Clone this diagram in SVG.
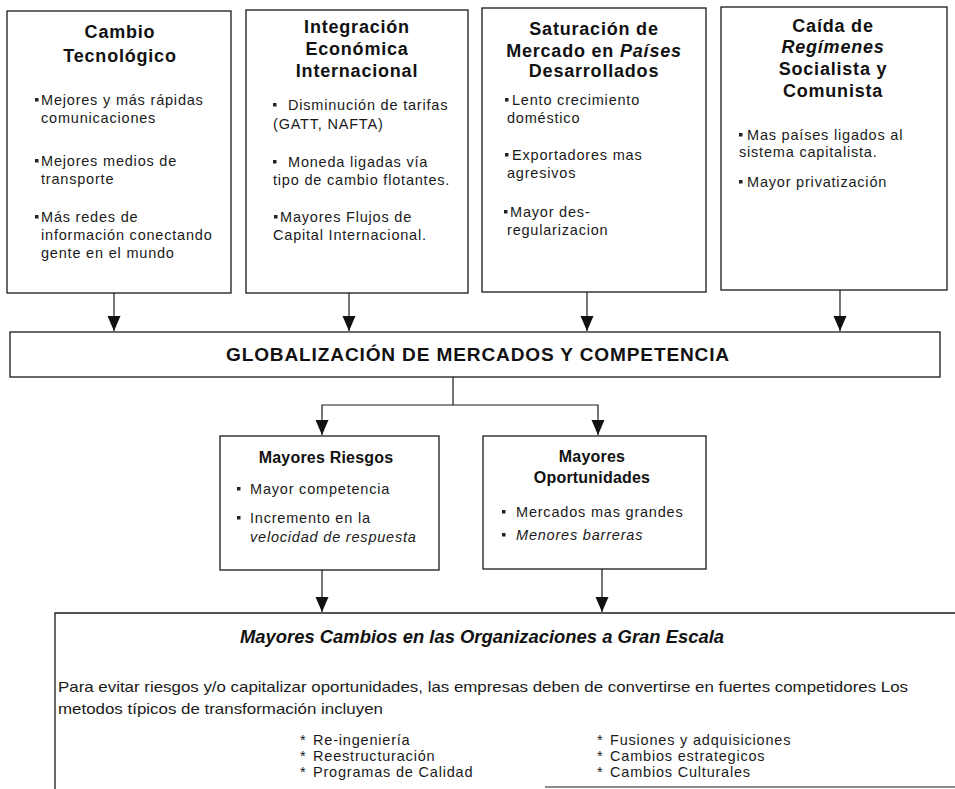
<svg xmlns="http://www.w3.org/2000/svg" width="955" height="789" viewBox="0 0 955 789">
<style>
.box{fill:#fff;stroke:#1a1a1a;stroke-width:1.3}
.t{font-family:"Liberation Sans",Arial,Helvetica,sans-serif;font-weight:bold;font-size:18px;text-anchor:middle;fill:#111;letter-spacing:0.8px}
.m{font-size:16px;letter-spacing:0.2px}
.b{font-family:"Liberation Sans",Arial,Helvetica,sans-serif;font-size:14.5px;fill:#1a1a1a;letter-spacing:0.8px}
.i{font-style:italic}
.sq{fill:#222}
.conn{stroke:#1a1a1a;stroke-width:1.2;fill:none}
</style>
<defs>
<marker id="ah" markerUnits="userSpaceOnUse" markerWidth="15" markerHeight="14" refX="15" refY="7" orient="auto">
<path d="M0,0.5 L15,7 L0,13.5 Z" fill="#111"/>
</marker>
</defs>

<g id="connectors">
<path class="conn" d="M114,293 V331" marker-end="url(#ah)"/>
<path class="conn" d="M349,293 V331" marker-end="url(#ah)"/>
<path class="conn" d="M587,292 V331" marker-end="url(#ah)"/>
<path class="conn" d="M840,290 V331" marker-end="url(#ah)"/>
<path class="conn" d="M453,377 V405"/>
<path class="conn" d="M453,405 H322 V435" marker-end="url(#ah)"/>
<path class="conn" d="M453,405 H598 V435" marker-end="url(#ah)"/>
<path class="conn" d="M322,570 V612" marker-end="url(#ah)"/>
<path class="conn" d="M602,569 V612" marker-end="url(#ah)"/>
</g>

<g id="cambio-tecnologico">
<rect class="box" x="7" y="11" width="224" height="282"/>
<text class="t" x="120" y="38">Cambio</text>
<text class="t" x="120" y="62">Tecnológico</text>
<rect class="sq" x="35" y="98" width="3.5" height="3.5"/>
<text class="b" x="41" y="105">Mejores y más rápidas</text>
<text class="b" x="41" y="123">comunicaciones</text>
<rect class="sq" x="35" y="159" width="3.5" height="3.5"/>
<text class="b" x="41" y="166">Mejores medios de</text>
<text class="b" x="41" y="184">transporte</text>
<rect class="sq" x="35" y="215" width="3.5" height="3.5"/>
<text class="b" x="41" y="222">Más redes de</text>
<text class="b" x="41" y="240">información conectando</text>
<text class="b" x="41" y="258">gente en el mundo</text>
</g>

<g id="integracion-economica">
<rect class="box" x="246" y="10" width="222" height="283"/>
<text class="t" x="357" y="33">Integración</text>
<text class="t" x="357" y="55">Económica</text>
<text class="t" x="357" y="77">Internacional</text>
<rect class="sq" x="273" y="103" width="3.5" height="3.5"/>
<text class="b" x="288" y="110">Disminución de tarifas</text>
<text class="b" x="273" y="129">(GATT, NAFTA)</text>
<rect class="sq" x="273" y="160" width="3.5" height="3.5"/>
<text class="b" x="288" y="167">Moneda ligadas vía</text>
<text class="b" x="273" y="185">tipo de cambio flotantes.</text>
<rect class="sq" x="274" y="215" width="3.5" height="3.5"/>
<text class="b" x="280" y="222">Mayores Flujos de</text>
<text class="b" x="273" y="240">Capital Internacional.</text>
</g>

<g id="saturacion-mercado">
<rect class="box" x="482" y="8" width="224" height="284"/>
<text class="t" x="594" y="35">Saturación de</text>
<text class="t" x="594" y="57">Mercado en <tspan class="i">Países</tspan></text>
<text class="t" x="594" y="77">Desarrollados</text>
<rect class="sq" x="505" y="98" width="3.5" height="3.5"/>
<text class="b" x="512" y="105">Lento crecimiento</text>
<text class="b" x="507" y="123">doméstico</text>
<rect class="sq" x="505" y="153" width="3.5" height="3.5"/>
<text class="b" x="512" y="160">Exportadores mas</text>
<text class="b" x="507" y="178">agresivos</text>
<rect class="sq" x="504" y="210" width="3.5" height="3.5"/>
<text class="b" x="510" y="217">Mayor des-</text>
<text class="b" x="507" y="235">regularizacion</text>
</g>

<g id="caida-regimenes">
<rect class="box" x="721" y="7" width="226" height="283"/>
<text class="t" x="833" y="32">Caída de</text>
<text class="t i" x="833" y="53">Regímenes</text>
<text class="t" x="833" y="75">Socialista y</text>
<text class="t" x="833" y="97">Comunista</text>
<rect class="sq" x="739" y="133" width="3.5" height="3.5"/>
<text class="b" x="747" y="140">Mas países ligados al</text>
<text class="b" x="739" y="157">sistema capitalista.</text>
<rect class="sq" x="739" y="180" width="3.5" height="3.5"/>
<text class="b" x="747" y="187">Mayor privatización</text>
</g>

<g id="globalizacion">
<rect class="box" x="10" y="332" width="930" height="45"/>
<text class="t" x="478" y="361" textLength="504" lengthAdjust="spacingAndGlyphs">GLOBALIZACIÓN DE MERCADOS Y COMPETENCIA</text>
</g>

<g id="mayores-riesgos">
<rect class="box" x="220" y="436" width="219" height="134"/>
<text class="t m" x="326" y="463">Mayores Riesgos</text>
<rect class="sq" x="237" y="487" width="3.5" height="3.5"/>
<text class="b" x="250" y="494">Mayor competencia</text>
<rect class="sq" x="237" y="516" width="3.5" height="3.5"/>
<text class="b" x="250" y="523">Incremento en la</text>
<text class="b i" x="250" y="542" letter-spacing="0.2">velocidad de respuesta</text>
</g>

<g id="mayores-oportunidades">
<rect class="box" x="483" y="436" width="223" height="133"/>
<text class="t m" x="592" y="462">Mayores</text>
<text class="t m" x="592" y="483">Oportunidades</text>
<rect class="sq" x="502" y="510" width="3.5" height="3.5"/>
<text class="b" x="516" y="517">Mercados mas grandes</text>
<rect class="sq" x="502" y="533" width="3.5" height="3.5"/>
<text class="b i" x="516" y="540">Menores barreras</text>
</g>

<g id="mayores-cambios">
<path class="box" d="M55,789 V613 H956" style="fill:#fff"/>
<path class="conn" d="M545,787 H955"/>
<text class="t i" x="482" y="643" textLength="484" lengthAdjust="spacingAndGlyphs" style="letter-spacing:0">Mayores Cambios en las Organizaciones a Gran Escala</text>
<text class="b" x="58" y="692" textLength="850" lengthAdjust="spacingAndGlyphs" style="letter-spacing:0">Para evitar riesgos y/o capitalizar oportunidades, las empresas deben de convertirse en fuertes competidores  Los</text>
<text class="b" x="58" y="714" textLength="325" lengthAdjust="spacingAndGlyphs" style="letter-spacing:0">metodos típicos de transformación incluyen</text>
<text class="b" x="300" y="745">*</text><text class="b" x="313" y="745">Re-ingeniería</text>
<text class="b" x="300" y="761">*</text><text class="b" x="313" y="761">Reestructuración</text>
<text class="b" x="300" y="777">*</text><text class="b" x="313" y="777">Programas de Calidad</text>
<text class="b" x="597" y="745">*</text><text class="b" x="610" y="745">Fusiones y adquisiciones</text>
<text class="b" x="597" y="761">*</text><text class="b" x="610" y="761">Cambios estrategicos</text>
<text class="b" x="597" y="777">*</text><text class="b" x="610" y="777">Cambios Culturales</text>
</g>
</svg>
